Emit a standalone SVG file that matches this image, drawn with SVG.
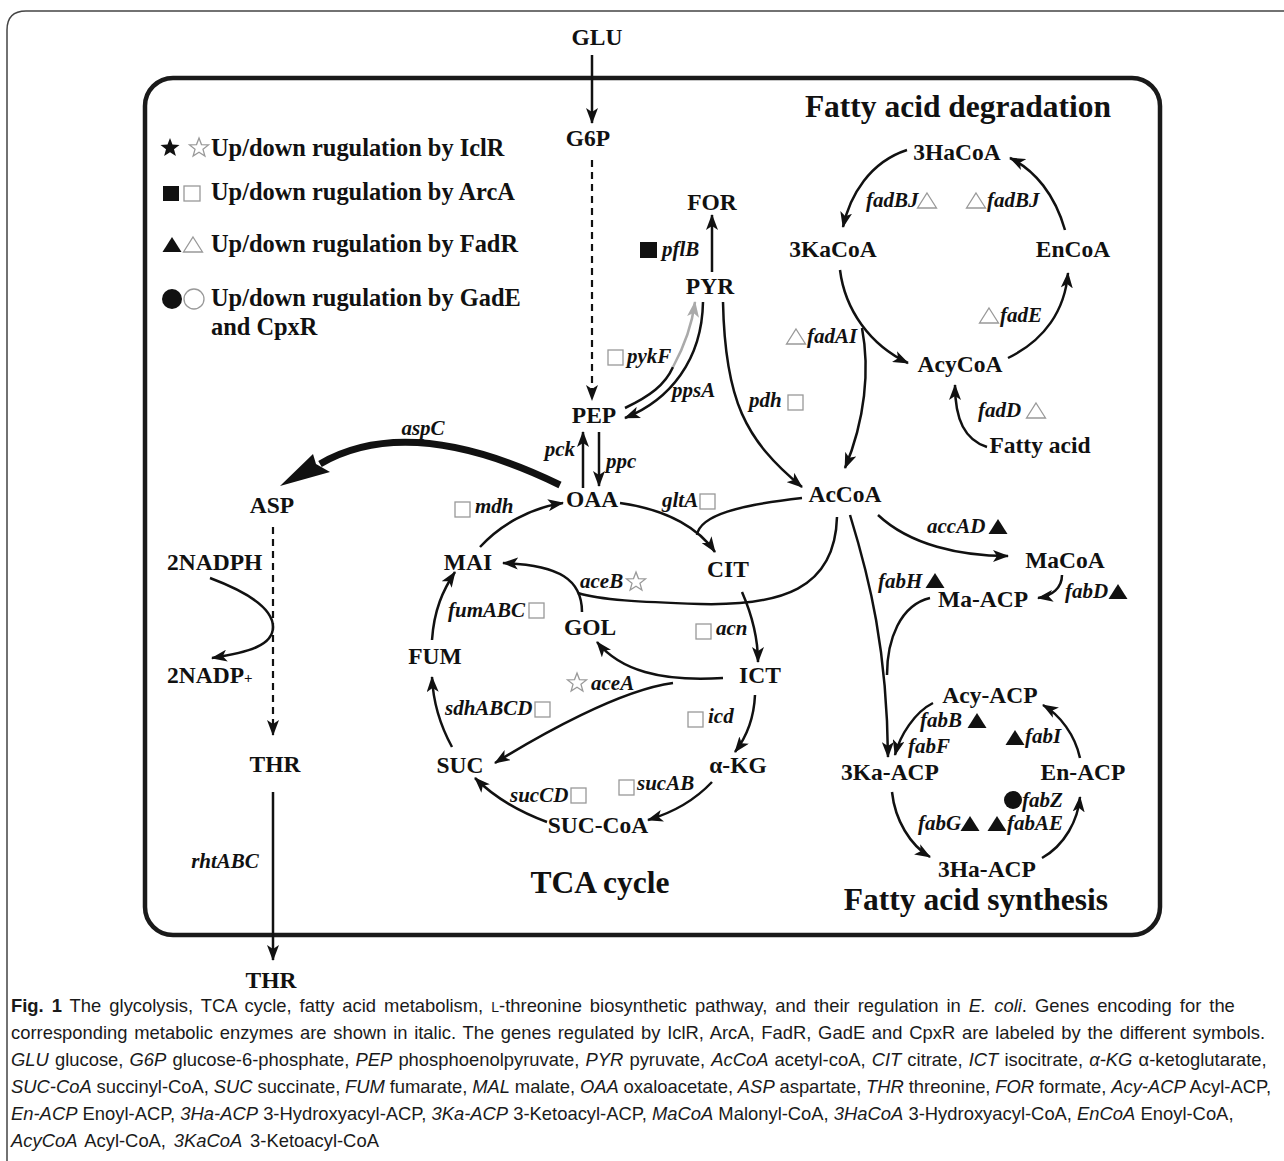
<svg xmlns="http://www.w3.org/2000/svg" xmlns:xlink="http://www.w3.org/1999/xlink" width="1284" height="1161" viewBox="0 0 1284 1161">
<style>
.n{font-family:"Liberation Serif",serif;font-weight:bold;font-size:23.5px;text-anchor:middle;fill:#111}
.s{text-anchor:start}
.t{font-size:31.5px}
.g{font-family:"Liberation Serif",serif;font-weight:bold;font-style:italic;font-size:21px;fill:#111}
.lg{font-family:"Liberation Serif",serif;font-weight:bold;font-size:24.4px;fill:#111}
.c{font-family:"Liberation Sans",sans-serif;font-size:18.4px;fill:#1a1a1a}
.i{font-style:italic}
.a{fill:none;stroke:#111;stroke-width:2.5;marker-end:url(#ah)}
.l{fill:none;stroke:#111;stroke-width:2.5}
.d{stroke-dasharray:7 5;stroke-width:2.2}
.gr{fill:none;stroke:#aaa;stroke-width:2.5;marker-end:url(#ahg)}
.fs{fill:#111}
.os{fill:#fff;stroke:#999;stroke-width:1.3}
</style>
<defs>
<marker id="ah" markerWidth="16" markerHeight="12" refX="15" refY="6" orient="auto" markerUnits="userSpaceOnUse"><path d="M0,0 L16,6 L0,12 L4,6 Z" fill="#111"/></marker>
<marker id="ahg" markerWidth="16" markerHeight="12" refX="15" refY="6" orient="auto" markerUnits="userSpaceOnUse"><path d="M0,0 L16,6 L0,12 L4,6 Z" fill="#aaa"/></marker>
<path id="star" d="M0,-10 L2.47,-3.4 L9.51,-3.09 L3.99,1.3 L5.88,8.09 L0,4.2 L-5.88,8.09 L-3.99,1.3 L-9.51,-3.09 L-2.47,-3.4 Z"/>
<path id="tri" d="M0,-8 L9.5,7 L-9.5,7 Z"/>
</defs>
<rect width="1284" height="1161" fill="#fff"/>
<path d="M1284,11 H26 Q7,11 7,30 V1161" fill="none" stroke="#444" stroke-width="1.5"/>
<rect x="145" y="78" width="1015" height="857" rx="28" fill="none" stroke="#1a1a1a" stroke-width="4.5"/>

<g id="legend">
<use href="#star" x="170" y="148" class="fs"/><use href="#star" x="199" y="148" class="os"/>
<text class="lg" x="211" y="156">Up/down rugulation by IclR</text>
<rect x="163" y="186" width="16" height="15" class="fs"/><rect x="184" y="186" width="16" height="15" class="os"/>
<text class="lg" x="211" y="200">Up/down rugulation by ArcA</text>
<use href="#tri" x="172" y="245" class="fs"/><use href="#tri" x="193" y="245" class="os"/>
<text class="lg" x="211" y="252">Up/down rugulation by FadR</text>
<circle cx="172" cy="299" r="10" class="fs"/><circle cx="194" cy="299" r="10" class="os"/>
<text class="lg" x="211" y="306">Up/down rugulation by GadE</text>
<text class="lg" x="211" y="335">and CpxR</text>
</g>

<g id="titles">
<text class="n t" x="958" y="117">Fatty acid degradation</text>
<text class="n t" x="600" y="893">TCA cycle</text>
<text class="n t" x="976" y="910">Fatty acid synthesis</text>
</g>

<g id="connectors">
<path class="a" d="M592,55 V123"/>
<path class="a d" d="M592,160 V400"/>
<path class="a" d="M712,272 V215"/>
<path class="l" d="M625,408 C650,396 665,385 673,367"/>
<path class="gr" d="M673,367 C685,345 692,325 695,302"/>
<path class="a" d="M703,302 C702,360 670,400 625,418"/>
<path class="a" d="M723,302 C725,400 745,440 802,487"/>
<path class="a" d="M583,488 V432"/>
<path class="a" d="M599,432 V486"/>
<path d="M560,485 Q410,412 320,464" fill="none" stroke="#111" stroke-width="7"/>
<path d="M280,486 L313,454 L316,464 L330,472 Z" fill="#111"/>
<path class="a d" d="M273,527 V735"/>
<path class="a" d="M210,578 C250,593 273,610 273,627 C273,645 250,652 212,658"/>
<path class="a" d="M273,792 V960"/>
<path class="a" d="M480,547 C500,525 530,508 563,503"/>
<path class="a" d="M620,503 C670,510 700,530 715,552"/>
<path class="l" d="M802,498 C740,505 700,515 697,535"/>
<path class="a" d="M742,592 C752,615 758,640 758,662"/>
<path class="l" d="M837,517 C835,590 780,606 700,604 C640,602 600,600 578,593"/>
<path class="a" d="M582,612 C582,580 560,565 503,563"/>
<path class="a" d="M723,678 C660,682 620,670 597,642"/>
<path class="a" d="M673,683 C620,690 540,735 495,763"/>
<path class="a" d="M432,640 C434,610 443,590 455,572"/>
<path class="a" d="M452,747 C440,725 433,700 432,677"/>
<path class="a" d="M755,695 C754,718 748,735 735,752"/>
<path class="a" d="M712,782 C695,800 675,812 648,820"/>
<path class="a" d="M547,822 C520,812 495,798 475,778"/>
<path class="a" d="M907,150 C870,162 850,195 843,227"/>
<path class="a" d="M1065,230 C1055,195 1035,170 1010,158"/>
<path class="a" d="M840,270 C845,310 870,345 908,363"/>
<path class="a" d="M1008,358 C1045,340 1065,310 1068,273"/>
<path class="a" d="M987,447 C965,440 955,420 955,385"/>
<path class="a" d="M862,328 C870,370 865,420 845,468"/>
<path class="a" d="M878,515 C910,545 960,556 1008,556"/>
<path class="a" d="M1062,575 C1062,588 1052,596 1038,598"/>
<path class="a" d="M850,515 C870,580 887,650 888,757"/>
<path class="l" d="M930,598 C900,605 887,640 887,675"/>
<path class="a" d="M933,703 C915,712 900,735 895,755"/>
<path class="a" d="M892,792 C895,820 910,845 930,857"/>
<path class="a" d="M1042,858 C1065,845 1078,820 1080,797"/>
<path class="a" d="M1080,758 C1075,735 1060,715 1043,705"/>
</g>

<g id="gene-labels">
<rect x="640" y="242" width="17" height="16" class="fs"/><text class="g" x="662" y="256">pflB</text>
<rect x="608" y="350" width="15" height="15" class="os"/><text class="g" x="627" y="363">pykF</text>
<text class="g" x="672" y="397">ppsA</text>
<text class="g" x="749" y="407">pdh</text><rect x="788" y="395" width="15" height="15" class="os"/>
<text class="g" x="575" y="456" text-anchor="end">pck</text>
<text class="g" x="606" y="468">ppc</text>
<text class="g" x="423" y="435" text-anchor="middle">aspC</text>
<rect x="455" y="502" width="15" height="15" class="os"/><text class="g" x="475" y="513">mdh</text>
<text class="g" x="662" y="507">gltA</text><rect x="700" y="494" width="15" height="15" class="os"/>
<text class="g" x="580" y="588">aceB</text><use href="#star" x="636" y="582" class="os"/>
<text class="g" x="448" y="617">fumABC</text><rect x="529" y="603" width="15" height="15" class="os"/>
<rect x="696" y="624" width="15" height="15" class="os"/><text class="g" x="716" y="635">acn</text>
<use href="#star" x="577" y="683" class="os"/><text class="g" x="591" y="690">aceA</text>
<text class="g" x="445" y="715">sdhABCD</text><rect x="535" y="702" width="15" height="15" class="os"/>
<rect x="688" y="712" width="15" height="15" class="os"/><text class="g" x="708" y="723">icd</text>
<text class="g" x="510" y="802">sucCD</text><rect x="571" y="788" width="15" height="15" class="os"/>
<rect x="619" y="780" width="15" height="15" class="os"/><text class="g" x="637" y="790">sucAB</text>
<text class="g" x="225" y="868" text-anchor="middle" font-size="18.5">rhtABC</text>
<text class="g" x="866" y="207">fadBJ</text><use href="#tri" x="927" y="201" class="os"/>
<use href="#tri" x="976" y="201" class="os"/><text class="g" x="987" y="207">fadBJ</text>
<use href="#tri" x="989" y="316" class="os"/><text class="g" x="1000" y="322">fadE</text>
<use href="#tri" x="796" y="337" class="os"/><text class="g" x="807" y="343">fadAI</text>
<text class="g" x="978" y="417">fadD</text><use href="#tri" x="1036" y="411" class="os"/>
<text class="g" x="927" y="533">accAD</text><use href="#tri" x="998" y="527" class="fs"/>
<text class="g" x="878" y="588">fabH</text><use href="#tri" x="935" y="581" class="fs"/>
<text class="g" x="1065" y="598">fabD</text><use href="#tri" x="1118" y="592" class="fs"/>
<text class="g" x="920" y="727">fabB</text><use href="#tri" x="977" y="721" class="fs"/>
<text class="g" x="908" y="753">fabF</text>
<use href="#tri" x="1015" y="738" class="fs"/><text class="g" x="1025" y="743">fabI</text>
<circle cx="1013" cy="800" r="9" class="fs"/><text class="g" x="1022" y="807">fabZ</text>
<text class="g" x="918" y="830">fabG</text><use href="#tri" x="970" y="824" class="fs"/>
<use href="#tri" x="997" y="824" class="fs"/><text class="g" x="1007" y="830">fabAE</text>
</g>

<g id="node-GLU"><text class="n" x="597" y="45">GLU</text></g>
<g id="node-G6P"><text class="n" x="588" y="146">G6P</text></g>
<g id="node-FOR"><text class="n" x="712" y="210">FOR</text></g>
<g id="node-PYR"><text class="n" x="710" y="294">PYR</text></g>
<g id="node-PEP"><text class="n" x="594" y="423">PEP</text></g>
<g id="node-OAA"><text class="n" x="592" y="507">OAA</text></g>
<g id="node-ASP"><text class="n" x="272" y="513">ASP</text></g>
<g id="node-2NADPH"><text class="n s" x="167" y="570">2NADPH</text></g>
<g id="node-2NADP"><text class="n s" x="167" y="683">2NADP<tspan font-size="15">+</tspan></text></g>
<g id="node-THR-in"><text class="n" x="275" y="772">THR</text></g>
<g id="node-THR-out"><text class="n" x="271" y="988">THR</text></g>
<g id="node-MAI"><text class="n" x="468" y="570">MAI</text></g>
<g id="node-CIT"><text class="n" x="728" y="577">CIT</text></g>
<g id="node-GOL"><text class="n" x="590" y="635">GOL</text></g>
<g id="node-FUM"><text class="n" x="435" y="664">FUM</text></g>
<g id="node-ICT"><text class="n" x="760" y="683">ICT</text></g>
<g id="node-SUC"><text class="n" x="460" y="773">SUC</text></g>
<g id="node-aKG"><text class="n" x="738" y="773">α-KG</text></g>
<g id="node-SUCCoA"><text class="n" x="598" y="833">SUC-CoA</text></g>
<g id="node-AcCoA"><text class="n" x="845" y="502">AcCoA</text></g>
<g id="node-MaCoA"><text class="n" x="1065" y="568">MaCoA</text></g>
<g id="node-MaACP"><text class="n" x="983" y="607">Ma-ACP</text></g>
<g id="node-AcyACP"><text class="n" x="990" y="703">Acy-ACP</text></g>
<g id="node-3KaACP"><text class="n" x="890" y="780">3Ka-ACP</text></g>
<g id="node-EnACP"><text class="n" x="1083" y="780">En-ACP</text></g>
<g id="node-3HaACP"><text class="n" x="987" y="877">3Ha-ACP</text></g>
<g id="node-3HaCoA"><text class="n" x="957" y="160">3HaCoA</text></g>
<g id="node-3KaCoA"><text class="n" x="833" y="257">3KaCoA</text></g>
<g id="node-EnCoA"><text class="n" x="1073" y="257">EnCoA</text></g>
<g id="node-AcyCoA"><text class="n" x="960" y="372">AcyCoA</text></g>
<g id="node-FattyAcid"><text class="n" x="1040" y="453">Fatty acid</text></g>

<g id="caption">
<text class="c" x="11" y="1012" word-spacing="2.9"><tspan font-weight="bold">Fig. 1</tspan>  The glycolysis, TCA cycle, fatty acid metabolism, <tspan font-size="14">L</tspan>-threonine biosynthetic pathway, and their regulation in <tspan class="i">E. coli</tspan>. Genes encoding for the</text>
<text class="c" x="11" y="1039" word-spacing="1.6">corresponding metabolic enzymes are shown in italic. The genes regulated by IclR, ArcA, FadR, GadE and CpxR are labeled by the different symbols.</text>
<text class="c" x="11" y="1066" word-spacing="1"><tspan class="i">GLU</tspan> glucose, <tspan class="i">G6P</tspan> glucose-6-phosphate, <tspan class="i">PEP</tspan> phosphoenolpyruvate, <tspan class="i">PYR</tspan> pyruvate, <tspan class="i">AcCoA</tspan> acetyl-coA, <tspan class="i">CIT</tspan> citrate, <tspan class="i">ICT</tspan> isocitrate, <tspan class="i">α-KG</tspan> α-ketoglutarate,</text>
<text class="c" x="11" y="1093" word-spacing="-0.3"><tspan class="i">SUC-CoA</tspan> succinyl-CoA, <tspan class="i">SUC</tspan> succinate, <tspan class="i">FUM</tspan> fumarate, <tspan class="i">MAL</tspan> malate, <tspan class="i">OAA</tspan> oxaloacetate, <tspan class="i">ASP</tspan> aspartate, <tspan class="i">THR</tspan> threonine, <tspan class="i">FOR</tspan> formate, <tspan class="i">Acy-ACP</tspan> Acyl-ACP,</text>
<text class="c" x="11" y="1120"><tspan class="i">En-ACP</tspan> Enoyl-ACP, <tspan class="i">3Ha-ACP</tspan> 3-Hydroxyacyl-ACP, <tspan class="i">3Ka-ACP</tspan> 3-Ketoacyl-ACP, <tspan class="i">MaCoA</tspan> Malonyl-CoA, <tspan class="i">3HaCoA</tspan> 3-Hydroxyacyl-CoA, <tspan class="i">EnCoA</tspan> Enoyl-CoA,</text>
<text class="c" x="11" y="1147" word-spacing="2.7"><tspan class="i">AcyCoA</tspan> Acyl-CoA, <tspan class="i">3KaCoA</tspan> 3-Ketoacyl-CoA</text>
</g>
</svg>
